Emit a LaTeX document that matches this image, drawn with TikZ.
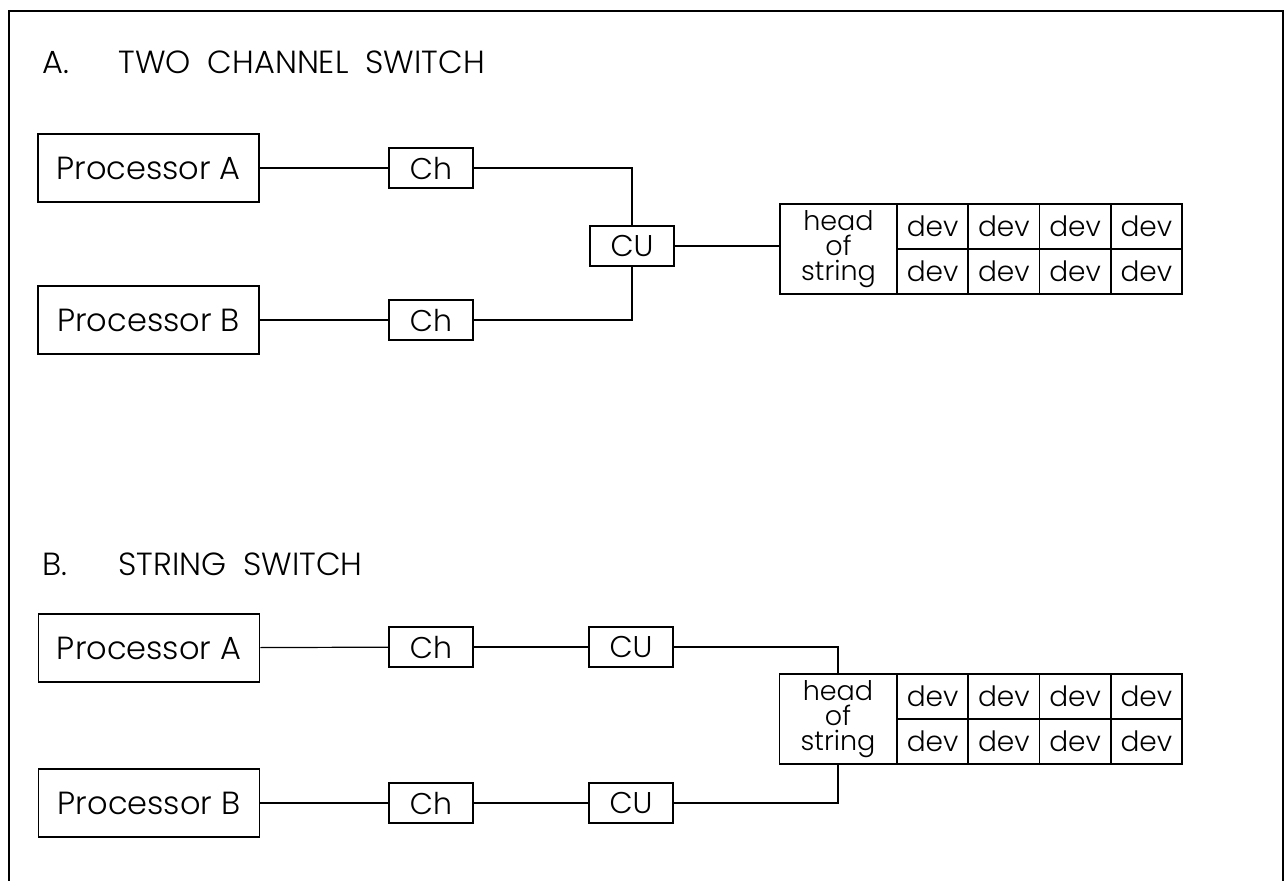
\documentclass[tikz,border=0pt]{standalone}
\usepackage{fontspec}
\setmainfont{Poppins}[UprightFont=* Light]
\newcommand\ttlfont{\fontsize{16}{18}\selectfont\setlength{\spaceskip}{8.5pt}}
\begin{document}
\begin{tikzpicture}[x=0.5pt,y=-0.5pt,
  box/.style={draw, line width=0.75pt, inner sep=0pt},
  proc/.style={box, minimum width=110.5pt, minimum height=34pt, font=\fontsize{16}{18}\selectfont},
  chbox/.style={box, minimum width=42pt, minimum height=20pt, font=\fontsize{15}{17}\selectfont},
  headbox/.style={box, minimum width=58.5pt, minimum height=45pt, align=center, font=\fontsize{13.5}{12.6}\selectfont},
  devbox/.style={box, minimum width=35.625pt, minimum height=22.5pt, font=\fontsize{14}{16}\selectfont},
  title/.style={anchor=base west, inner sep=0pt, font=\ttlfont},
  wire/.style={line width=0.6pt},
  frame/.style={line width=1.3pt}]
\useasboundingbox (0,0) rectangle (1286,881);
\draw[frame] (9,881) -- (9,11) -- (1283,11) -- (1283,881);

% ---------- A ----------
\node[title] (tA1) at (42,74) {A.};
\node[title] (tA2) at (118,74) {TWO CHANNEL SWITCH};

\node[proc] (pa1) at (148.5,168) {Processor A};
\node[proc] (pb1) at (148.5,320) {Processor B};
\node[chbox] (cha1) at (431,168) {Ch};
\node[chbox] (chb1) at (431,320) {Ch};
\node[chbox] (cu1) at (632,246) {CU};
\node[headbox] (hd1) at (838.5,249) {head\\of\\string};
\foreach \i/\x in {1/932.6,2/1003.9,3/1075.1,4/1146.4}{
  \node[devbox] (d1a\i) at (\x,226.5) {dev};
  \node[devbox] (d1b\i) at (\x,271.5) {dev};
}
\draw[wire] (pa1) -- (cha1);
\draw[wire] (pb1) -- (chb1);
\draw[wire] (cha1.east) -| (cu1.north);
\draw[wire] (chb1.east) -| (cu1.south);
\draw[wire] (cu1.east) -- (cu1.east -| hd1.west);

% ---------- B ----------
\node[title] (tB1) at (42,576) {B.};
\node[title] (tB2) at (118,576) {STRING SWITCH};

\node[proc] (pa2) at (149,648) {Processor A};
\node[proc] (pb2) at (149,803) {Processor B};
\node[chbox] (cha2) at (431,647) {Ch};
\node[chbox] (chb2) at (431,803) {Ch};
\node[chbox] (cua2) at (631,647) {CU};
\node[chbox] (cub2) at (631,803) {CU};
\node[headbox] (hd2) at (838,719) {head\\of\\string};
\foreach \i/\x in {1/932.6,2/1003.9,3/1075.1,4/1146.4}{
  \node[devbox] (d2a\i) at (\x,696.5) {dev};
  \node[devbox] (d2b\i) at (\x,741.5) {dev};
}
\draw[wire] (pa2) -- (cha2);
\draw[wire] (pb2) -- (chb2);
\draw[wire] (cha2) -- (cua2);
\draw[wire] (chb2) -- (cub2);
\draw[wire] (cua2.east) -| (hd2.north);
\draw[wire] (cub2.east) -| (hd2.south);
\end{tikzpicture}
\end{document}
